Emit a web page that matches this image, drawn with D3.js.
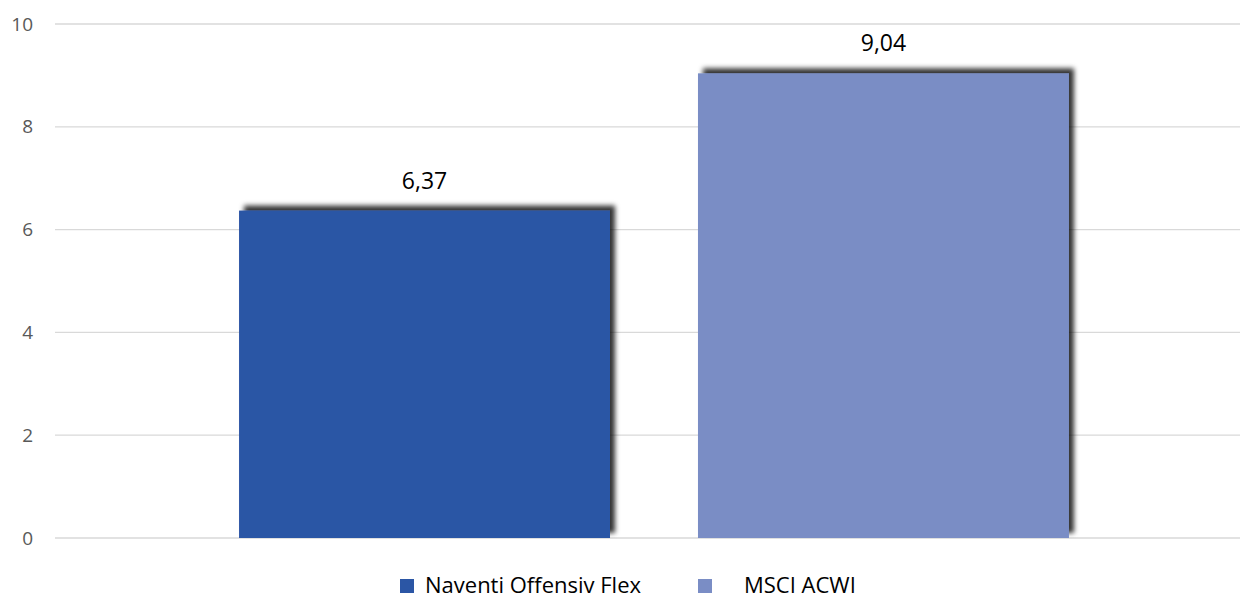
<!DOCTYPE html>
<html>
<head>
<meta charset="utf-8">
<script src="https://cdn.jsdelivr.net/npm/d3@7"></script>
<style>
body{margin:0;background:#fff;}
text{font-family:"Open Sans","Noto Sans",sans-serif;}
</style>
</head>
<body>
<svg width="1240" height="600"></svg>
<script>
var categories=["Naventi Offensiv Flex","MSCI ACWI"];
var values=[6.37,9.04];
var colorList=["#2B56A5","#7A8DC5"];
var yTicks=[0,2,4,6,8,10];

var svg=d3.select("svg");
var margins={top:24,bottom:62,left:55,right:0};
var width=1240-margins.left-margins.right;
var height=600-margins.top-margins.bottom;

var defs=svg.append("defs");
var f=defs.append("filter").attr("id","shadow")
  .attr("x","-10%").attr("y","-10%").attr("width","120%").attr("height","120%");
f.append("feGaussianBlur").attr("in","SourceAlpha").attr("stdDeviation",2.5).attr("result","b");
f.append("feOffset").attr("in","b").attr("dx",5).attr("dy",-5).attr("result","o");
f.append("feFlood").attr("flood-color","#000").attr("flood-opacity",0.8);
f.append("feComposite").attr("in2","o").attr("operator","in").attr("result","s");
var m=f.append("feMerge");
m.append("feMergeNode").attr("in","s");
m.append("feMergeNode").attr("in","SourceGraphic");

// band range runs a bit past the right edge (chart was cropped)
var xScale=d3.scaleBand().domain(categories).range([0,1198]).paddingInner(0.1917).paddingOuter(0.401);
var yScale=d3.scaleLinear().domain([0,10]).range([height,0]);

var plot=svg.append("g").attr("transform","translate("+margins.left+","+margins.top+")");

plot.selectAll("line.grid").data(yTicks).enter().append("line")
  .attr("x1",0).attr("x2",width)
  .attr("y1",function(d){return yScale(d);}).attr("y2",function(d){return yScale(d);})
  .attr("stroke","#d9d9d9").attr("stroke-width",1.3);

plot.selectAll("text.tick").data(yTicks).enter().append("text")
  .attr("x",-22).attr("y",function(d){return yScale(d);})
  .attr("dy","0.35em").attr("text-anchor","end")
  .attr("fill","#595959").style("font-size","19px")
  .text(function(d){return d;});

plot.selectAll("rect.bar").data(values).enter().append("rect")
  .attr("x",function(d,i){return xScale(categories[i]);})
  .attr("y",function(d){return yScale(d);})
  .attr("width",xScale.bandwidth())
  .attr("height",function(d){return height-yScale(d);})
  .attr("fill",function(d,i){return colorList[i];})
  .attr("filter","url(#shadow)");

var fmt=function(v){return d3.format(".2f")(v).replace(".",",");};
plot.selectAll("text.val").data(values).enter().append("text")
  .attr("x",function(d,i){return xScale(categories[i])+xScale.bandwidth()/2;})
  .attr("y",function(d){return yScale(d)-22;})
  .attr("text-anchor","middle").attr("fill","#000").style("font-size","23px")
  .text(fmt);

var legendX=[400,698];
var legend=svg.append("g").attr("transform","translate(0,585)");
var items=legend.selectAll("g").data(categories).enter().append("g")
  .attr("transform",function(d,i){return "translate("+legendX[i]+",0)";});
items.append("rect").attr("x",0).attr("y",-6).attr("width",14).attr("height",14)
  .attr("fill",function(d,i){return colorList[i];});
items.append("text").attr("x",function(d,i){return i==0?25:46;}).attr("y",0).attr("dy","0.35em")
  .attr("fill","#000").style("font-size","22px").text(function(d){return d;});
</script>
</body>
</html>
